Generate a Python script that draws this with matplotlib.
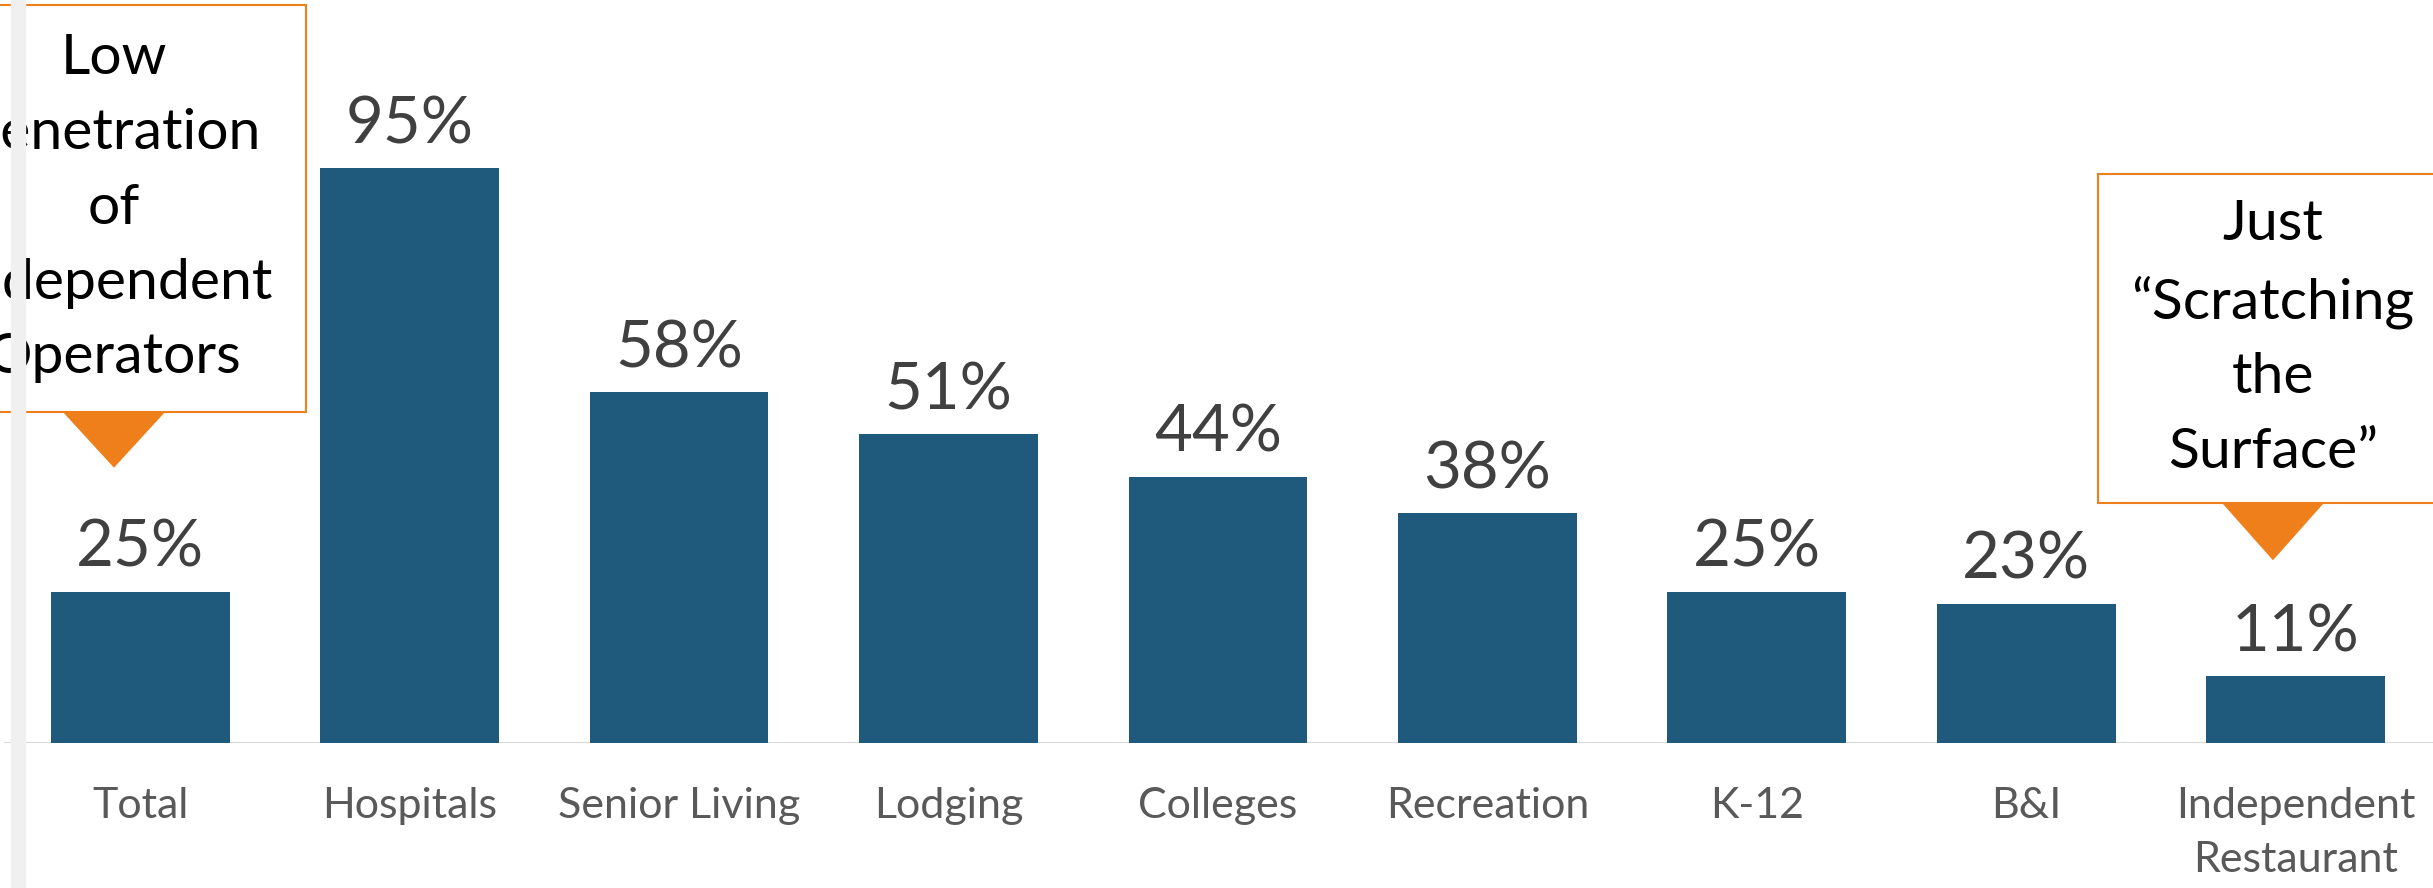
import matplotlib
matplotlib.use('Agg')
import matplotlib.pyplot as plt
from matplotlib.patches import Rectangle, Polygon

categories = ['Total', 'Hospitals', 'Senior Living', 'Lodging', 'Colleges',
              'Recreation', 'K-12', 'B&I', 'Independent\nRestaurant']
penetration = [25, 95, 58, 51, 44, 38, 25, 23, 11]

left_note = 'Low\nPenetration\nof\nIndependent\nOperators'
right_note = 'Just\n\u201cScratching\nthe\nSurface\u201d'

bar_color = '#1F5A7D'
orange = '#EF7F1A'
plt.rcParams['font.family'] = ['Lato', 'DejaVu Sans']

fig = plt.figure(figsize=(24.33, 8.88), dpi=100)

# thin grey strip down the left edge
fig.patches.append(Rectangle((11 / 2433, 0), 14 / 2433, 1, transform=fig.transFigure,
                             color='#f0f0f0', zorder=0))

ax = fig.add_axes([0, 145 / 888, 1, 743 / 888])
ax.patch.set_alpha(0)
x = range(len(categories))
ax.bar(x, penetration, width=0.663, color=bar_color, zorder=2)
ax.set_xlim(-0.521, 8.51)
ax.set_ylim(0, 122.8)

for i, v in enumerate(penetration):
    ax.annotate(f'{v}%', (i, v), xytext=(0, 18), textcoords='offset points',
                ha='center', va='baseline', fontsize=47, color='#404040', zorder=3)

ax.axhline(0, xmin=5 / 2433, color='#d9d9d9', lw=1.5, zorder=1)
for s in ax.spines.values():
    s.set_visible(False)
ax.set_yticks([])
ax.set_xticks(list(x))
ax.set_xticklabels(categories, fontsize=31, color='#595959', linespacing=1.5)
ax.tick_params(axis='x', length=0, pad=32)


def callout(cx, half_w, y0, y1, tri_w, tri_h, text):
    box = Rectangle((cx - half_w, y0), 2 * half_w, y1 - y0, facecolor='white',
                    edgecolor=orange, lw=1.5, zorder=5)
    ax.add_patch(box)
    tri = Polygon([(cx - tri_w / 2, y0), (cx + tri_w / 2, y0), (cx, y0 - tri_h)],
                  closed=True, facecolor=orange, edgecolor='none', zorder=5)
    ax.add_patch(tri)
    ax.text(cx, (y0 + y1) / 2, text, ha='center', va='center', fontsize=41,
            color='black', linespacing=1.58, zorder=6)


callout(-0.098, 0.713, 54.7, 122.0, 0.379, 9.2, left_note)
callout(7.916, 0.65, 39.7, 94.0, 0.379, 9.5, right_note)

fig.savefig('out.png', dpi=100)
